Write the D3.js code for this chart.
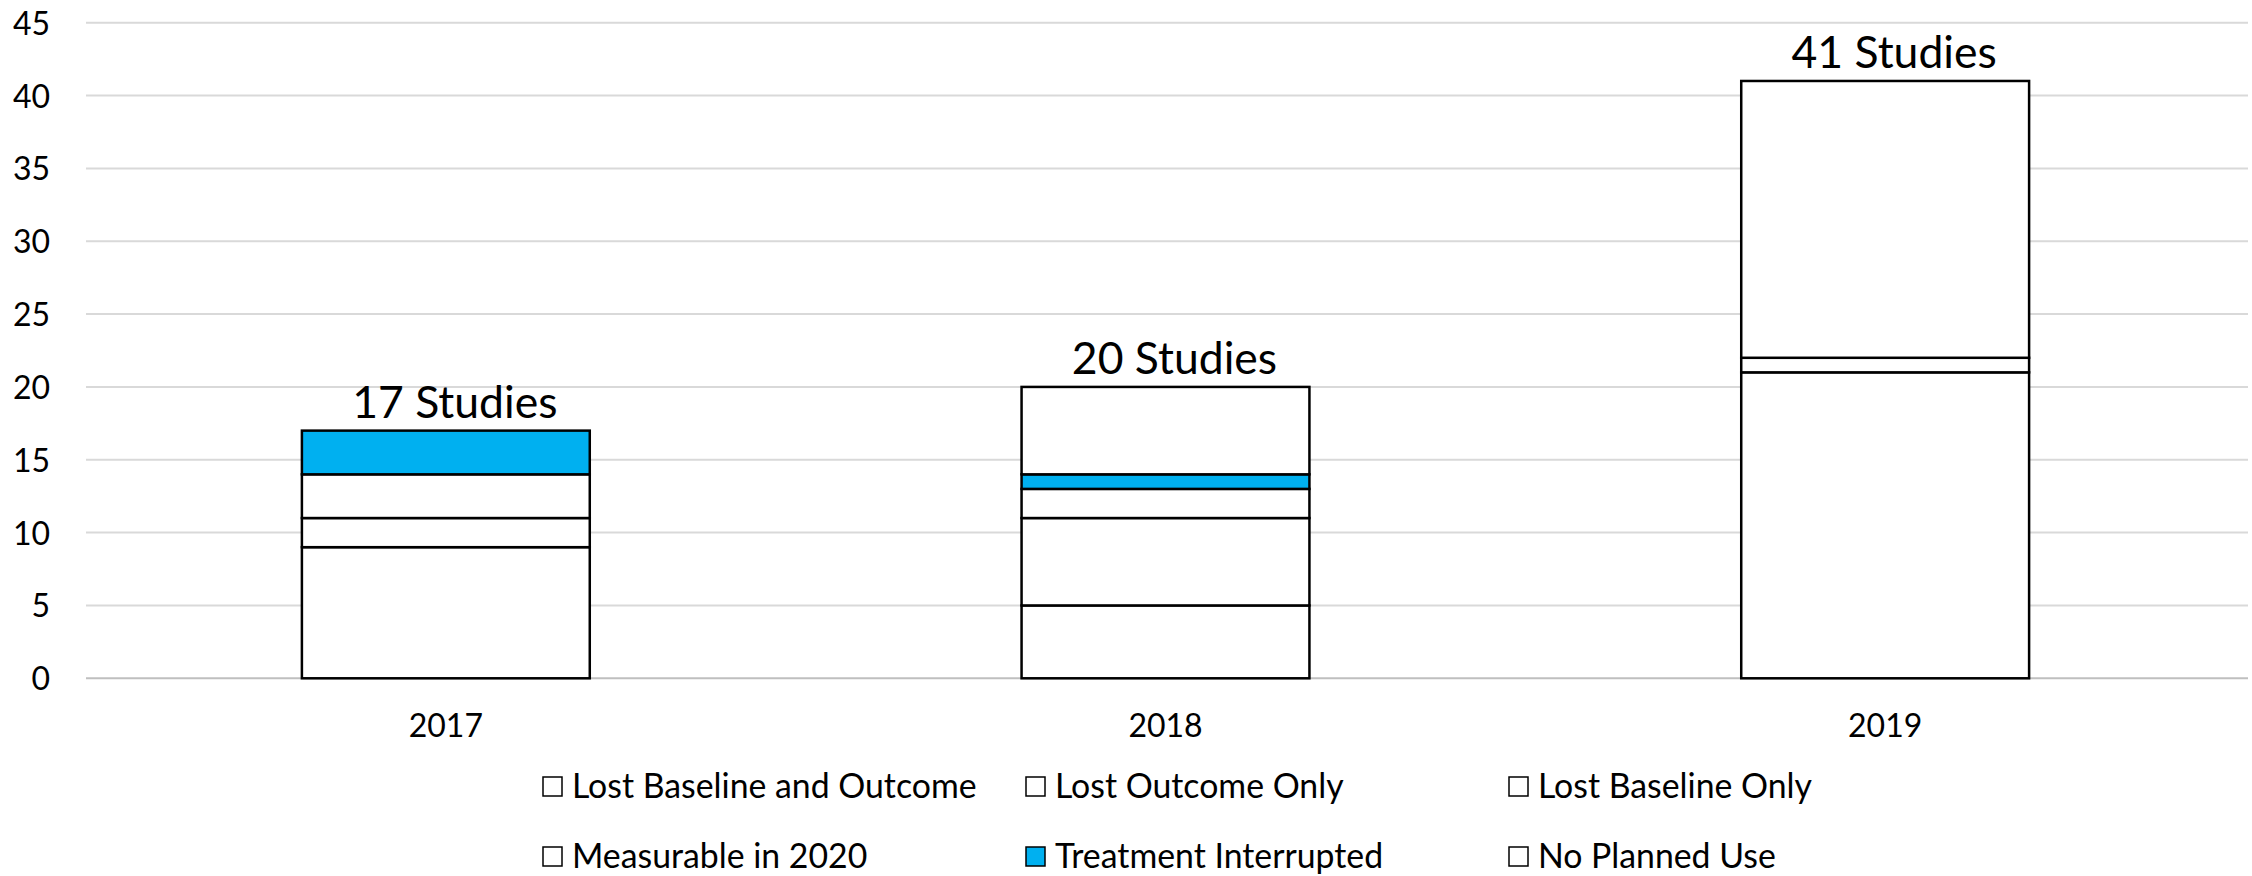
<!DOCTYPE html>
<html>
<head>
<meta charset="utf-8">
<script src="https://cdn.jsdelivr.net/npm/d3@7"></script>
<style>
  html, body { margin: 0; padding: 0; background: #fff; }
  svg text { font-family: Lato, "Open Sans", sans-serif; fill: #000; }
</style>
</head>
<body>
<div id="main"></div>
<script>
// categories and series (bottom of the stack first)
var years = ["2017", "2018", "2019"];
var seriesNames = ["Lost Baseline and Outcome", "Lost Outcome Only", "Lost Baseline Only",
                   "Measurable in 2020", "Treatment Interrupted", "No Planned Use"];
var lostBoth      = [9, 5, 21];
var lostOutcome   = [2, 6, 1];
var lostBaseline  = [3, 2, 0];
var measurable    = [0, 0, 19];
var interrupted   = [3, 1, 0];
var noPlannedUse  = [0, 6, 0];
var totalLabels   = ["17 Studies", "20 Studies", "41 Studies"];
var yTicks        = [0, 5, 10, 15, 20, 25, 30, 35, 40, 45];
var seriesColors  = ["#ffffff", "#ffffff", "#ffffff", "#ffffff", "#00b0f0", "#ffffff"];

var values = [lostBoth, lostOutcome, lostBaseline, measurable, interrupted, noPlannedUse];

// build table for d3.stack
var table = years.map(function(y, i) {
  var row = { year: y, label: totalLabels[i] };
  seriesNames.forEach(function(s, j) { row[s] = values[j][i]; });
  return row;
});

var W = 2252, H = 876;
var svg = d3.select("#main").append("svg")
    .attr("width", W)
    .attr("height", H);

var x = d3.scaleBand()
    .domain(years)
    .range([86, 2245])
    .paddingInner(0.6)
    .paddingOuter(0.3);

var y = d3.scaleLinear()
    .domain([0, 45])
    .range([678.3, 22.7]);

// gridlines
svg.append("g").selectAll("line")
    .data(yTicks)
    .enter()
    .append("line")
    .attr("x1", 86)
    .attr("x2", 2248)
    .attr("y1", function(d) { return y(d); })
    .attr("y2", function(d) { return y(d); })
    .attr("stroke", function(d) { return d === 0 ? "#bfbfbf" : "#d9d9d9"; })
    .attr("stroke-width", 2);

// y axis labels
var yAxis = d3.axisLeft(y).tickValues(yTicks).tickSize(0).tickPadding(0);
svg.append("g")
    .attr("transform", "translate(50,0)")
    .call(yAxis)
    .call(function(g) { g.select(".domain").remove(); })
    .selectAll("text")
    .attr("font-size", 32)
    .attr("dy", "0.36em");

// x axis labels
var xAxis = d3.axisBottom(x).tickSize(0).tickPadding(0);
svg.append("g")
    .attr("transform", "translate(0,737)")
    .call(xAxis)
    .call(function(g) { g.select(".domain").remove(); })
    .selectAll("text")
    .attr("font-size", 32)
    .attr("dy", 0);

// stacked bars
var stack = d3.stack().keys(seriesNames);
var layers = stack(table);

layers.forEach(function(layer, j) {
  svg.append("g").selectAll("rect")
      .data(layer.filter(function(d) { return d[1] - d[0] > 0; }))
      .enter()
      .append("rect")
      .attr("x", function(d) { return x(d.data.year); })
      .attr("width", x.bandwidth())
      .attr("y", function(d) { return y(d[1]); })
      .attr("height", function(d) { return y(d[0]) - y(d[1]); })
      .attr("fill", seriesColors[j])
      .attr("stroke", "#000")
      .attr("stroke-width", 2.5);
});

// total labels (sit a little right of the bar centre, like the original)
svg.append("g").selectAll("text")
    .data(table)
    .enter()
    .append("text")
    .attr("x", function(d) { return x(d.year) + x.bandwidth() / 2 + 9; })
    .attr("y", function(d) {
      var tot = d3.sum(seriesNames, function(s) { return d[s]; });
      return y(tot) - 13;
    })
    .attr("text-anchor", "middle")
    .attr("font-size", 44.5)
    .text(function(d) { return d.label; });

// legend: 3 columns, 2 rows
var legend = svg.append("g").selectAll("g")
    .data(seriesNames)
    .enter()
    .append("g")
    .attr("transform", function(d, i) {
      var col = i % 3, row = Math.floor(i / 3);
      return "translate(" + (542 + col * 483) + "," + (798 + row * 70) + ")";
    });

legend.append("rect")
    .attr("x", 1)
    .attr("y", -21)
    .attr("width", 19)
    .attr("height", 19)
    .attr("fill", function(d, i) { return seriesColors[i]; })
    .attr("stroke", "#000")
    .attr("stroke-width", 1.5);

legend.append("text")
    .attr("x", 30)
    .attr("y", 0)
    .attr("font-size", 33.8)
    .text(function(d) { return d; });
</script>
</body>
</html>
